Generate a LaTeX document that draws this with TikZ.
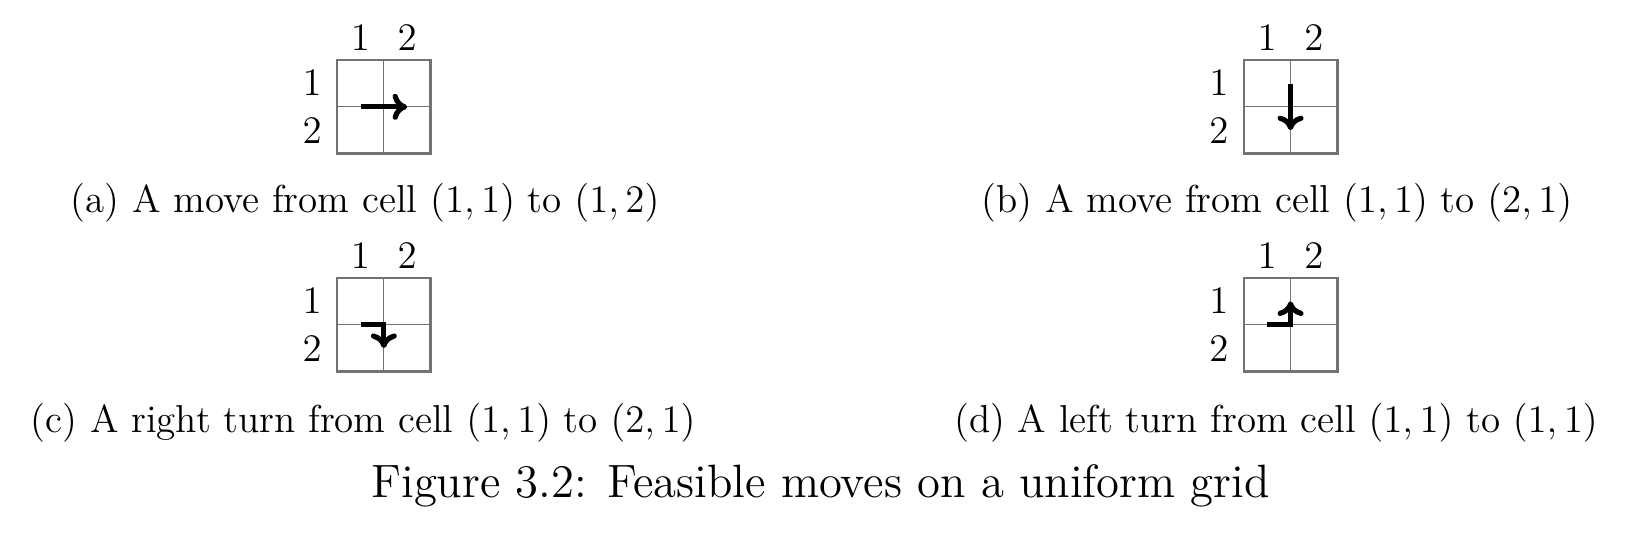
\documentclass[tikz,border=0pt]{standalone}
\usetikzlibrary{arrows.meta}
\begin{document}
\begin{tikzpicture}[x=0.3195pt,y=-0.3195pt,
  gridouter/.style={draw=black!55,line width=0.8pt},
  gridinner/.style={draw=black!55,line width=0.4pt},
  lbl/.style={inner sep=0pt,font=\fontsize{12}{14}\selectfont},
  subcap/.style={inner sep=0pt,font=\fontsize{12}{14}\selectfont},
  bigcap/.style={inner sep=0pt,font=\fontsize{14.4}{17}\selectfont},
  mv/.style={line width=1.6pt,-{Computer Modern Rightarrow[length=4.5pt,width=8pt]},miter limit=10}]
\useasboundingbox (0,0) rectangle (1577,520);
\newcommand\mygrid[3]{%
 \begin{scope}[shift={(#1,#2)}]
  \draw[gridinner] (45,0) -- (45,90);
  \draw[gridinner] (0,45) -- (90,45);
  \draw[gridouter] (0,0) rectangle (90,90);
  \node[lbl] (#3c1) at (22.5,-21) {$1$};
  \node[lbl] (#3c2) at (67.5,-21) {$2$};
  \node[lbl] (#3r1) at (-24,22) {$1$};
  \node[lbl] (#3r2) at (-24,68) {$2$};
  \coordinate (#3s) at (22.5,45);
  \coordinate (#3m) at (45,45);
  \coordinate (#3e) at (67.5,45);
  \coordinate (#3t) at (45,22.5);
  \coordinate (#3b) at (45,67.5);
 \end{scope}}
\mygrid{325}{58}{a}
\mygrid{1199}{58}{b}
\mygrid{325}{268}{c}
\mygrid{1199}{268}{d}
\draw[mv] (as) -- (ae);
\draw[mv] (bt) -- (bb);
\draw[mv] (cs) -- (cm) -- (cb);
\draw[mv] (ds) -- (dm) -- (dt);
\node[subcap] (capa) at (352,195) {(a) A move from cell $(1,1)$ to $(1,2)$};
\node[subcap] (capb) at (1231,195) {(b) A move from cell $(1,1)$ to $(2,1)$};
\node[subcap] (capc) at (350,408) {(c) A right turn from cell $(1,1)$ to $(2,1)$};
\node[subcap] (capd) at (1230,408) {(d) A left turn from cell $(1,1)$ to $(1,1)$};
\node[bigcap] (main) at (791,468) {Figure 3.2: Feasible moves on a uniform grid};
\end{tikzpicture}
\end{document}
